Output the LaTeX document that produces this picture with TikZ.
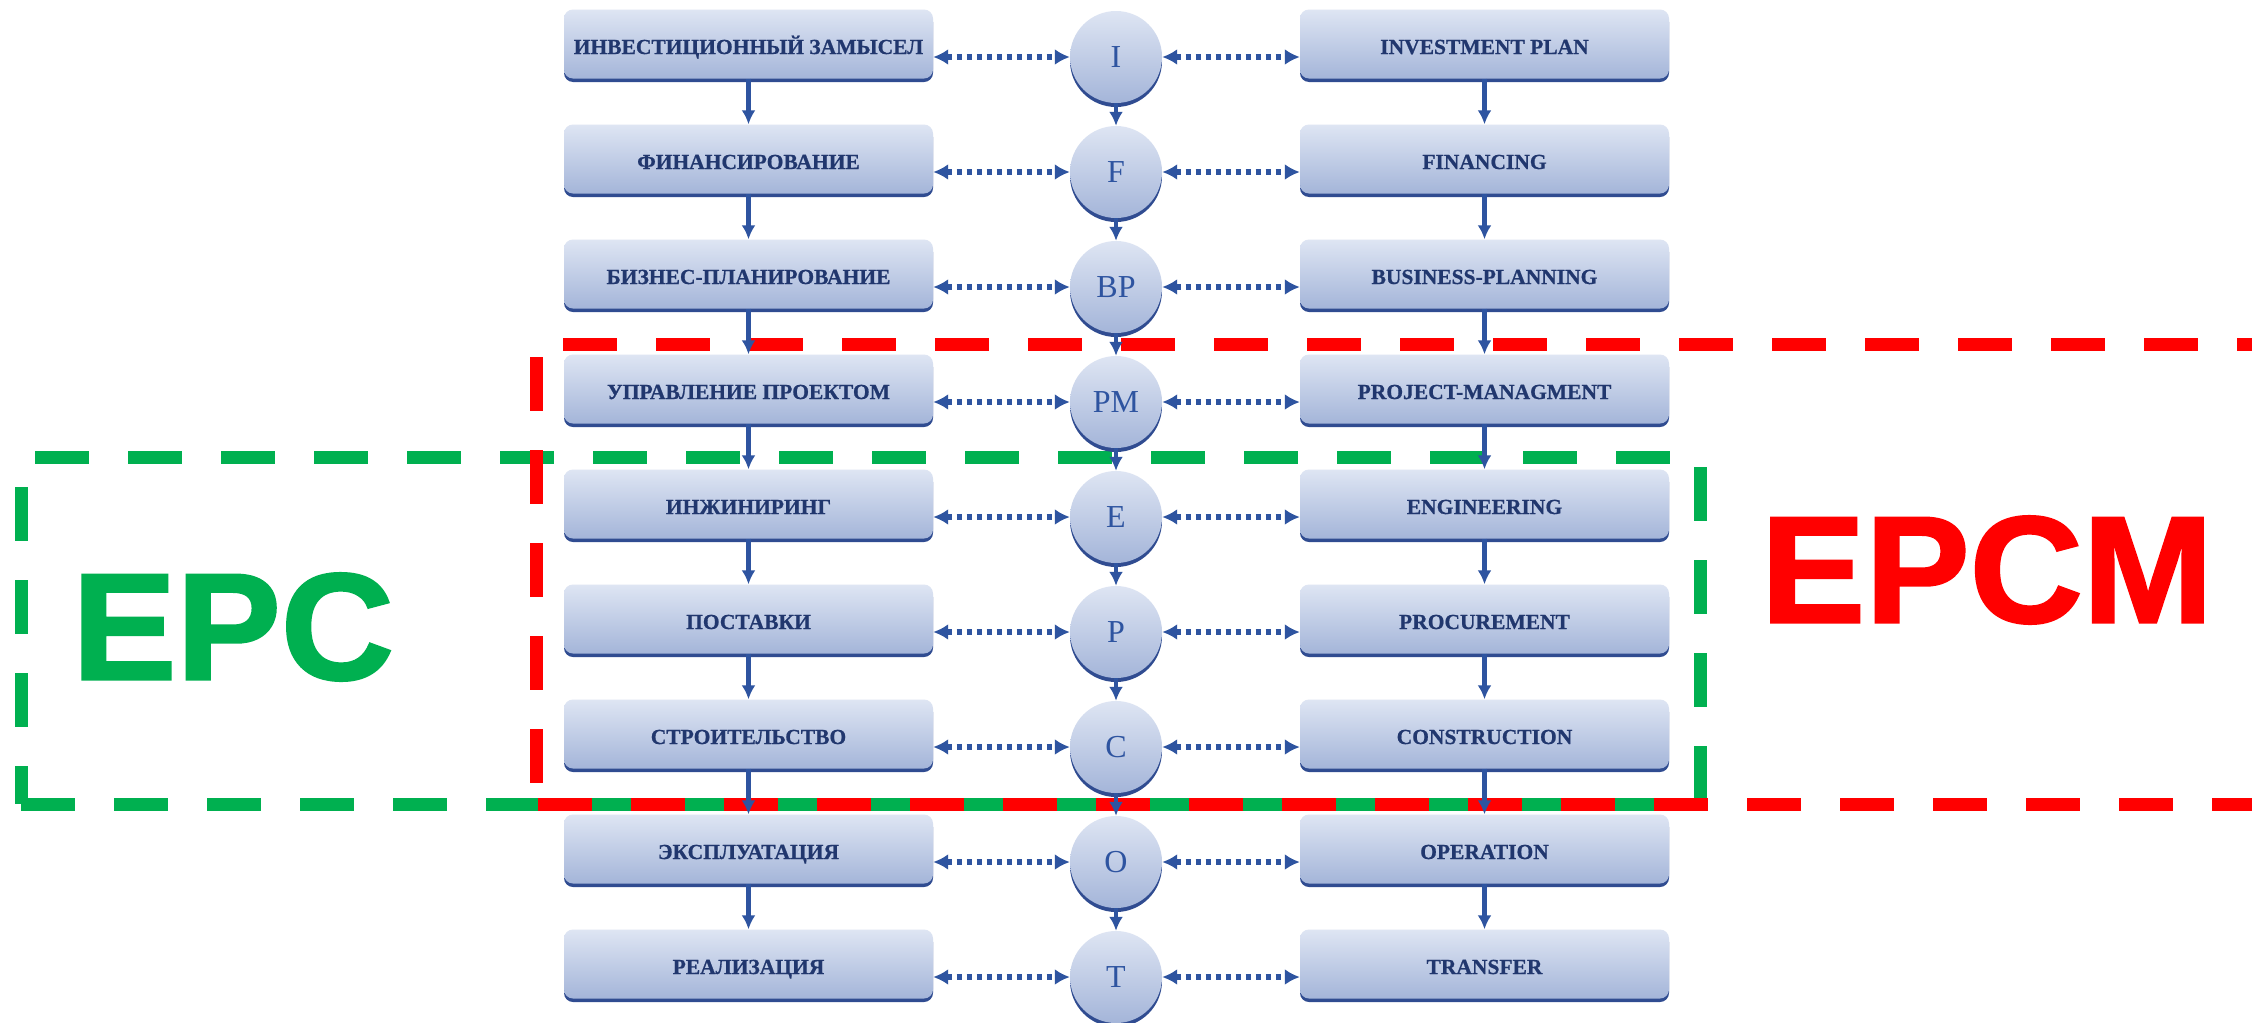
\documentclass[tikz,border=0pt]{standalone}
\usepackage{fontspec}
\setmainfont{Liberation Serif}[BoldFeatures={FakeBold=0.8}]
\newfontfamily\epcfont[BoldFeatures={FakeBold=1.6}]{Liberation Sans}
\usetikzlibrary{arrows.meta,shadows,shadings}
\definecolor{lineblue}{RGB}{46,84,160}
\definecolor{navy}{RGB}{33,55,110}
\definecolor{boxtop}{RGB}{222,229,243}
\definecolor{boxbot}{RGB}{164,181,217}
\definecolor{rim}{RGB}{48,76,145}
\definecolor{epcgreen}{RGB}{0,176,80}
\definecolor{epcred}{RGB}{255,0,0}
\tikzset{
  stagebox/.style={rectangle, rounded corners=9bp, minimum width=369bp, minimum height=69bp,
    inner sep=0pt, top color=boxtop, bottom color=boxbot, draw=none,
    general shadow={fill=rim, shadow yshift=-3.5bp},
    text height=20bp, text depth=0pt,
    font=\fontsize{21.5bp}{24bp}\selectfont\bfseries, text=navy},
  stagecircle/.style={circle, minimum size=92bp, inner sep=0pt,
    top color=boxtop, bottom color=boxbot, draw=none,
    general shadow={fill=rim, shadow yshift=-4bp},
    font=\fontsize{32bp}{34bp}\selectfont, text=lineblue},
  flowarrow/.style={draw=lineblue, line width=4.5bp, -{Latex[length=14bp,width=14bp]}},
  linkarrow/.style={draw=lineblue, line width=5.5bp, dash pattern=on 5bp off 5bp,
    {Latex[length=15bp,width=16bp]}-{Latex[length=15bp,width=16bp]}},
  reddash/.style={draw=epcred, line width=13bp, dash pattern=on 54bp off 39bp},
  greendash/.style={draw=epcgreen, line width=13bp, dash pattern=on 54bp off 39bp},
  bigtag/.style={inner sep=0pt, font=\fontsize{152bp}{160bp}\selectfont\epcfont\bfseries, xscale=1.03}
}
\begin{document}
\begin{tikzpicture}[x=1bp, y=-1bp]
\clip (0,0) rectangle (2252,1022);
\fill[white] (0,0) rectangle (2252,1022);
% green EPC frame
\draw[greendash] (35,457) -- (1672,457);
\draw[greendash] (21,487) -- (21,804);
\draw[greendash] (21,804) -- (1700,804);
\draw[greendash] (1700,467) -- (1700,804);
% red EPCM frame
\draw[reddash] (563,344) -- (2300,344);
\draw[reddash] (536,357) -- (536,798);
\draw[reddash] (538,804) -- (2300,804);
% labels
\node[bigtag, text=epcgreen] (epc) at (233,627) {EPC};
\node[bigtag, text=epcred] (epcm) at (1987,570) {EPCM};
% stages
\foreach \l/\c/\r [count=\i from 0] in {
  ИНВЕСТИЦИОННЫЙ ЗАМЫСЕЛ/I/INVESTMENT PLAN,
  ФИНАНСИРОВАНИЕ/F/FINANCING,
  БИЗНЕС-ПЛАНИРОВАНИЕ/BP/BUSINESS-PLANNING,
  УПРАВЛЕНИЕ ПРОЕКТОМ/PM/PROJECT-MANAGMENT,
  ИНЖИНИРИНГ/E/ENGINEERING,
  ПОСТАВКИ/P/PROCUREMENT,
  СТРОИТЕЛЬСТВО/C/CONSTRUCTION,
  ЭКСПЛУАТАЦИЯ/O/OPERATION,
  РЕАЛИЗАЦИЯ/T/TRANSFER} {
  \pgfmathsetmacro\yy{115*\i}
  \node[stagebox] (L\i) at (748.5,44+\yy) {\l};
  \node[stagebox] (R\i) at (1484.5,44+\yy) {\r};
  \node[stagecircle] (C\i) at (1116,57+\yy) {\c};
}
\foreach \i [evaluate=\i as \j using int(\i+1)] in {0,...,7} {
  \draw[flowarrow] (L\i.south) -- (L\j.north);
  \draw[flowarrow] (R\i.south) -- (R\j.north);
  \draw[flowarrow] (C\i.south) -- (C\j.north);
}
\foreach \i in {0,...,8} {
  \draw[linkarrow] (L\i.east |- C\i.center) -- (C\i.west);
  \draw[linkarrow] (C\i.east) -- (R\i.west |- C\i.center);
}
\end{tikzpicture}
\end{document}
